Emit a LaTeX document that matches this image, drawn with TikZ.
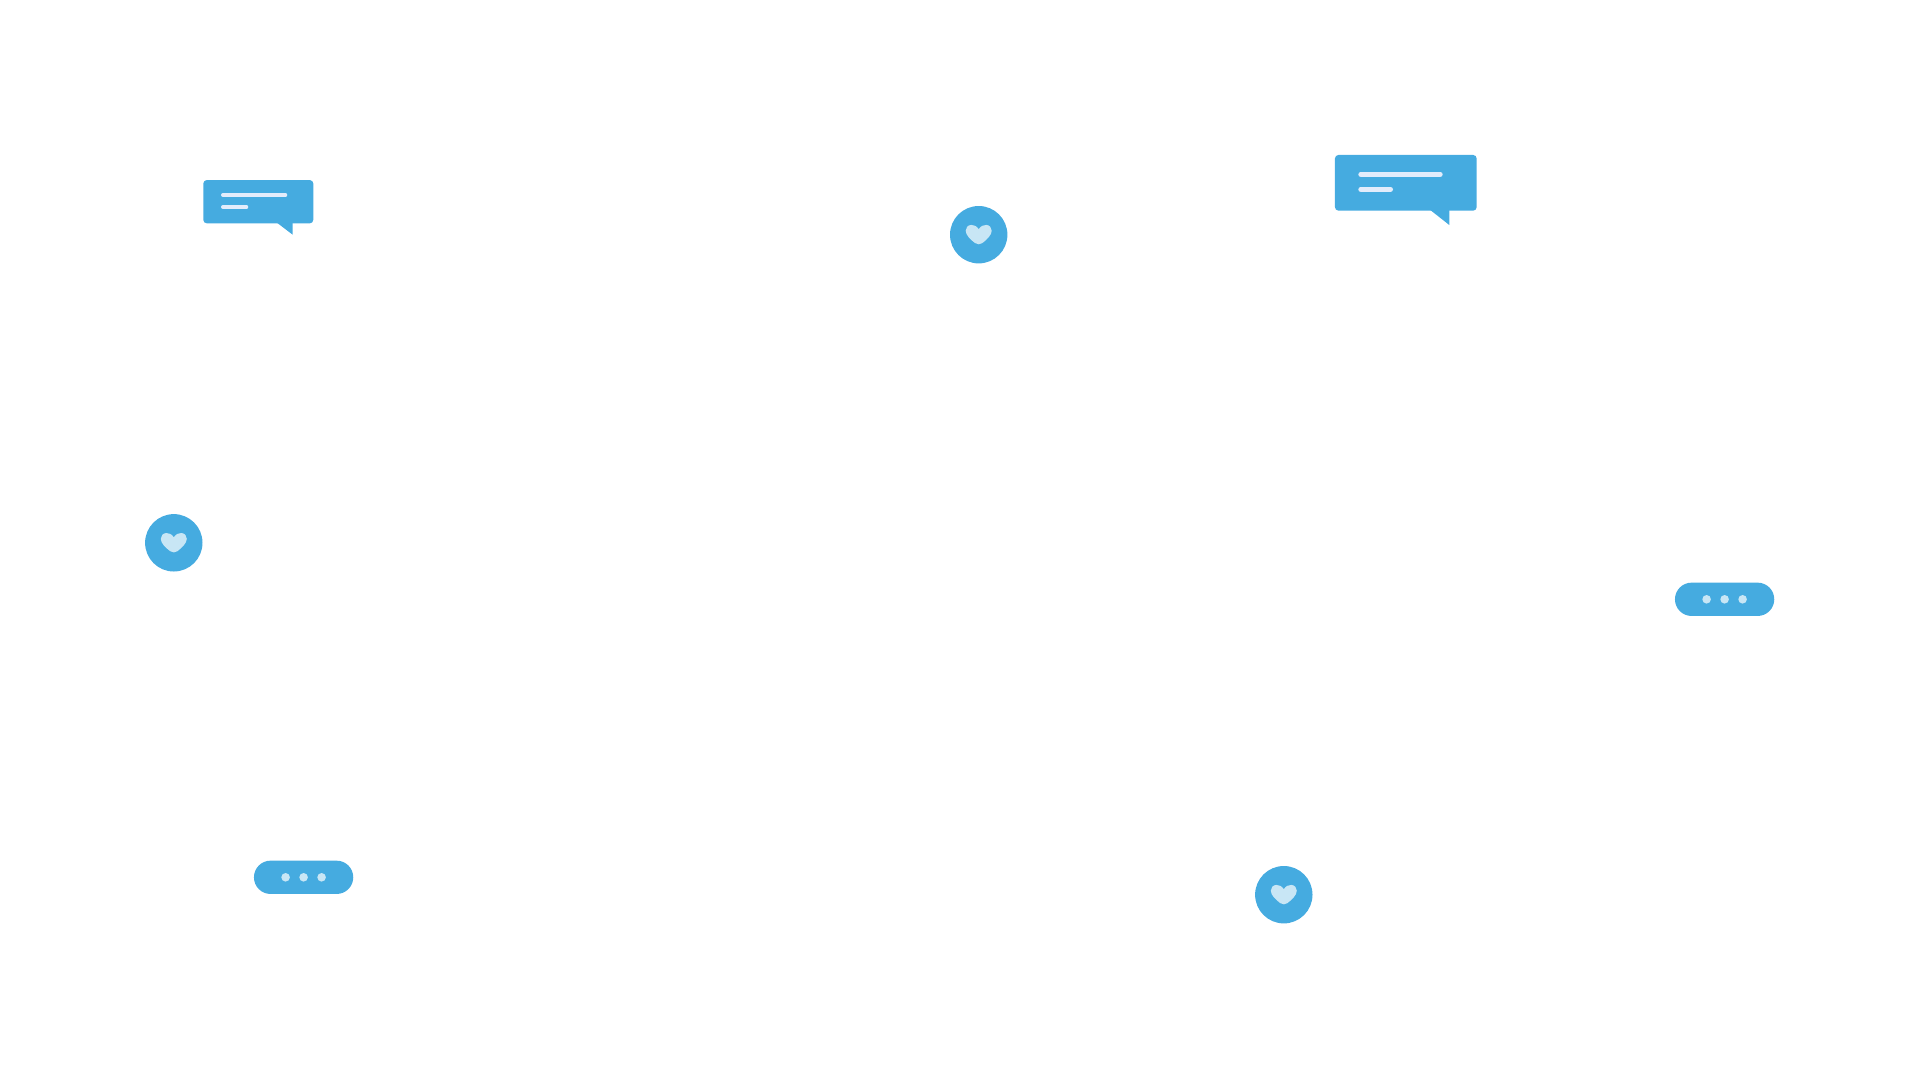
\documentclass[tikz,border=0pt]{standalone}
\usepackage{tikz}
\usetikzlibrary{positioning}

\definecolor{chatblue}{HTML}{45ABE0}
\definecolor{heartblue}{HTML}{C8E6F5}
\definecolor{textline}{HTML}{E2ECFB}

\tikzset{
    badge/.style={circle, fill=chatblue, inner sep=0pt, minimum size=57.4pt},
    pill/.style={rectangle, rounded corners=16.6pt, fill=chatblue, inner sep=0pt, minimum width=99.3pt, minimum height=33.3pt},
    bubble/.style={rectangle, rounded corners=3.5pt, fill=chatblue, inner sep=0pt},
    typing/.style={circle, fill=heartblue, inner sep=0pt, minimum size=8.6pt},
    heartmark/.style={fill=heartblue}
}

% heart inside a badge, the argument is the name of the badge
\newcommand{\heartin}[1]{
    \fill[heartmark, shift={(#1.center)}] (0,-5.5) .. controls (2,-8.6) and (4.8,-10) .. (7.6,-9.8)
        .. controls (11,-9.5) and (13,-7) .. (13,-4)
        .. controls (13,0.5) and (8,5) .. (3.6,8.4)
        .. controls (1.4,10) and (-1.4,10) .. (-3.6,8.4)
        .. controls (-8,5) and (-13,0.5) .. (-13,-4)
        .. controls (-13,-7) and (-11,-9.5) .. (-7.6,-9.8)
        .. controls (-4.8,-10) and (-2,-8.6) .. cycle;
}

\begin{document}
\begin{tikzpicture}[x=1pt, y=-1pt]
    \useasboundingbox (0,0) rectangle (1920,1080);

    % speech bubbles
    \node [bubble, minimum width=110pt, minimum height=43.3pt] (smallbubble) at (258.3,201.7) {};
    \coordinate (smalltip) at (292.7,234.7);
    \fill[chatblue] (276,222) -- (smalltip) -- (292.7,222) -- cycle;
    \draw[textline, line width=4pt, line cap=round] (223,195) -- (285.3,195);
    \draw[textline, line width=4pt, line cap=round] (223,207) -- (246.3,207);

    \node [bubble, minimum width=141.7pt, minimum height=55.7pt] (bigbubble) at (1405.8,182.8) {};
    \coordinate (bigtip) at (1449.3,225);
    \fill[chatblue] (1429,209) -- (bigtip) -- (1449.3,209) -- cycle;
    \draw[textline, line width=5pt, line cap=round] (1360.8,174.3) -- (1440.2,174.3);
    \draw[textline, line width=5pt, line cap=round] (1360.8,189.3) -- (1390.5,189.3);

    % hearts
    \node [badge] (topheart) at (978.7,234.7) {};
    \node [badge] (leftheart) at (173.8,542.8) {};
    \node [badge] (lowheart) at (1283.8,894.7) {};
    \heartin{topheart}
    \heartin{leftheart}
    \heartin{lowheart}

    % typing indicators
    \node [pill] (rightpill) at (1724.6,599.3) {};
    \node [typing] (rightdotb) at (rightpill.center) {};
    \node [typing, left=9pt of rightdotb] (rightdota) {};
    \node [typing, right=9pt of rightdotb] (rightdotc) {};

    \node [pill] (leftpill) at (303.6,877.3) {};
    \node [typing] (leftdotb) at (leftpill.center) {};
    \node [typing, left=9pt of leftdotb] (leftdota) {};
    \node [typing, right=9pt of leftdotb] (leftdotc) {};
\end{tikzpicture}
\end{document}
